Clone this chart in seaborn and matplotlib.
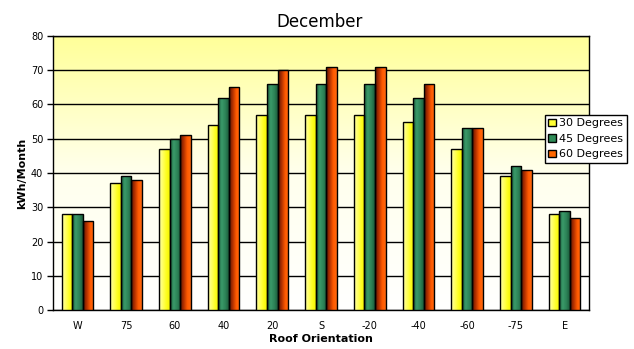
import numpy as np
import pandas as pd
import matplotlib
matplotlib.use("Agg")
import matplotlib.pyplot as plt
from matplotlib.patches import Patch
from matplotlib.colors import LinearSegmentedColormap, to_rgb
import seaborn as sns

orientations = ["W", "75", "60", "40", "20", "S", "-20", "-40", "-60", "-75", "E"]
series_names = ["30 Degrees", "45 Degrees", "60 Degrees"]
deg30 = [28, 37, 47, 54, 57, 57, 57, 55, 47, 39, 28]
deg45 = [28, 39, 50, 62, 66, 66, 66, 62, 53, 42, 29]
deg60 = [26, 38, 51, 65, 70, 71, 71, 66, 53, 41, 27]
y_ticks = [0, 10, 20, 30, 40, 50, 60, 70, 80]

df = pd.DataFrame({
    "orientation": orientations * 3,
    "kwh": deg30 + deg45 + deg60,
    "tilt": [series_names[0]] * 11 + [series_names[1]] * 11 + [series_names[2]] * 11,
})

solid = ["#FFFF33", "#2E8B57", "#FF6600"]
gradients = [
    ["#FFFFA8", "#FFFF66", "#FFFF22", "#F2F200"],
    ["#1B5A3A", "#3A9A6A", "#2E8458", "#1C5C3C"],
    ["#5A1500", "#B03000", "#FF5A00", "#FF6A10"],
]

sns.set_style("white")
plt.rcParams["font.family"] = ["DejaVu Sans"]
plt.rcParams["text.color"] = "black"
plt.rcParams["axes.labelcolor"] = "black"
plt.rcParams["xtick.color"] = "black"
plt.rcParams["ytick.color"] = "black"

fig = plt.figure(figsize=(6.34, 3.49), dpi=100)
ax = fig.add_axes([53 / 634, 1 - 310 / 349, 536 / 634, 274 / 349])

sns.barplot(data=df, x="orientation", y="kwh", hue="tilt", palette=solid,
            width=0.65, edgecolor="black", linewidth=1.0, legend=False,
            ax=ax, zorder=3, saturation=1)

# gradient fills on bars
for cont, grad in zip(ax.containers, gradients):
    cmap = LinearSegmentedColormap.from_list("g", [to_rgb(c) for c in grad])
    gimg = np.linspace(0, 1, 64).reshape(1, -1)
    for bar in cont:
        x, w, h = bar.get_x(), bar.get_width(), bar.get_height()
        im = ax.imshow(gimg, cmap=cmap, extent=[x, x + w, 0, h], aspect="auto",
                       interpolation="bilinear", zorder=3.2)
        im.set_clip_path(bar)
        bar.set_facecolor("none")
        bar.set_zorder(3.5)

# background gradient (yellow top -> white bottom)
bg_cmap = LinearSegmentedColormap.from_list("bg", [(1, 1, 1), (1, 1, 0.93), (1, 1, 0.6)])
bg = np.linspace(0, 1, 256).reshape(-1, 1)
ax.imshow(bg, cmap=bg_cmap, extent=[0, 1, 0, 1], transform=ax.transAxes,
          aspect="auto", origin="lower", zorder=-1)

ax.set_xlim(-0.5, len(orientations) - 0.5)
ax.set_ylim(0, 80)
ax.set_yticks(y_ticks)
ax.yaxis.grid(True, color="black", linewidth=1.0)
ax.set_axisbelow(True)

for s in ax.spines.values():
    s.set_visible(True)
    s.set_color("black")
    s.set_linewidth(1.0)

ax.set_xticks(range(len(orientations)))
ax.set_xticklabels(orientations)
ax.set_xticks(np.arange(-0.5, len(orientations), 1.0), minor=True)
ax.tick_params(axis="x", which="major", length=0, pad=8, labelsize=7, labelcolor="black")
ax.tick_params(axis="x", which="minor", length=4, width=1, color="black", direction="out")
ax.tick_params(axis="y", which="major", length=4, width=1, color="black", direction="out",
               labelsize=7, pad=3, left=True, labelcolor="black")

ax.set_xlabel("Roof Orientation", fontsize=8, fontweight="bold", labelpad=2, color="black")
ax.set_ylabel("kWh/Month", fontsize=8, fontweight="bold", labelpad=3, color="black")
fig.text(320 / 634, 1 - 22 / 349, "December", ha="center", va="center", fontsize=12,
         color="black")

handles = [Patch(facecolor=c, edgecolor="black", linewidth=1.0) for c in solid]
leg = fig.legend(handles, series_names, loc="upper left",
                 bbox_to_anchor=(545 / 634, 1 - 115 / 349), fontsize=8,
                 frameon=True, fancybox=False, framealpha=1, edgecolor="black",
                 handlelength=0.7, handleheight=0.7, handletextpad=0.3,
                 borderpad=0.3, labelspacing=0.5, borderaxespad=0)
leg.get_frame().set_linewidth(1.0)
for t in leg.get_texts():
    t.set_color("black")

fig.savefig("out.png", dpi=100)
